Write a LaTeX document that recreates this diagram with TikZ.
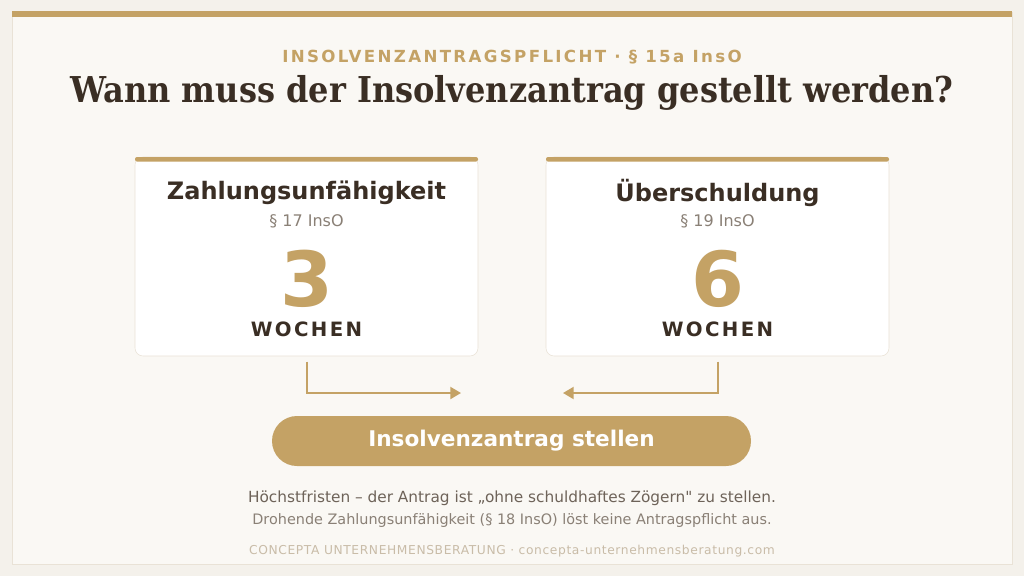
\documentclass[tikz,border=0pt]{standalone}
\usepackage{fontspec}
\setmainfont{DejaVu Sans}[Ligatures=TeXOff]
\newfontfamily\titlefont{DejaVu Serif Condensed}
\usetikzlibrary{arrows.meta}
\definecolor{pagebg}{HTML}{F4F1EB}
\definecolor{panelbg}{HTML}{FAF8F4}
\definecolor{panelline}{HTML}{E9E2D6}
\definecolor{gold}{HTML}{C4A265}
\definecolor{ink}{HTML}{3A2E24}
\definecolor{muted}{HTML}{8A8076}
\definecolor{notetext}{HTML}{6E6359}
\definecolor{foottext}{HTML}{C9BCA8}
\begin{document}
\begin{tikzpicture}[x=0.75pt,y=-0.75pt,
  card/.style={draw=panelline, fill=white, rounded corners=6pt,
    minimum width=257.25pt, minimum height=149.25pt, inner sep=0pt},
  cardhead/.style={font=\bfseries\fontsize{18}{20}\selectfont, text=ink},
  para/.style={font=\fontsize{12}{14}\selectfont, text=muted},
  bignum/.style={font=\bfseries\fontsize{57}{60}\selectfont, text=gold, inner sep=0pt},
  weeks/.style={font=\bfseries\fontsize{14.8}{16}\selectfont\addfontfeatures{LetterSpace=12}, text=ink, inner sep=1pt},
  flow/.style={draw=gold, line width=1.5pt, -{Triangle[length=8pt,width=9pt]}},
  note/.style={inner sep=1pt}]
  % page and frame
  \fill[pagebg] (0,0) rectangle (1024,576);
  \draw[panelline, fill=panelbg] (12,12) rectangle (1012,564);
  \fill[gold] (12,11) rectangle (1012,17);
  % heading
  \node[font=\bfseries\fontsize{12.5}{14}\selectfont\addfontfeatures{LetterSpace=14}, text=gold]
    (kicker) at (512,57) {INSOLVENZANTRAGSPFLICHT · § 15a InsO};
  \node[font=\titlefont\bfseries\fontsize{26.7}{30}\selectfont, text=ink]
    (title) at (512,92.5) {Wann muss der Insolvenzantrag gestellt werden?};
  % the two cards
  \node[card] (zu) at (306.5,256.5) {};
  \node[card] (ue) at (717.5,256.5) {};
  \fill[gold, rounded corners=1.5pt] (135,157) rectangle (478,161.5);
  \fill[gold, rounded corners=1.5pt] (546,157) rectangle (889,161.5);
  \node[cardhead] (zuname) at (306.5,193) {Zahlungsunfähigkeit};
  \node[para] (zupar) at (306.5,221) {§ 17 InsO};
  \node[bignum] (zunum) at (306.5,278.5) {3};
  \node[weeks] (zuwk) at (306.5,329.5) {WOCHEN};
  \node[cardhead] (uename) at (717.5,193) {Überschuldung};
  \node[para] (uepar) at (717.5,221) {§ 19 InsO};
  \node[bignum] (uenum) at (717.5,278.5) {6};
  \node[weeks] (uewk) at (717.5,329.5) {WOCHEN};
  % result
  \node[fill=gold, rounded corners=18.75pt, minimum width=359.25pt, minimum height=37.5pt,
    font=\bfseries\fontsize{16.2}{18}\selectfont, text=white] (antrag) at (511.5,441)
    {Insolvenzantrag stellen};
  \coordinate (zuend) at (461,393);
  \coordinate (ueend) at (563,393);
  \draw[flow] ([yshift=-4pt]zu.south) |- (zuend);
  \draw[flow] ([yshift=-4pt]ue.south) |- (ueend);
  % notes
  \node[note, font=\fontsize{11.5}{13}\selectfont, text=notetext] (note1) at (512,498)
    {Höchstfristen – der Antrag ist „ohne schuldhaftes Zögern" zu stellen.};
  \node[note, font=\fontsize{10.8}{12}\selectfont, text=muted] (note2) at (512,521)
    {Drohende Zahlungsunfähigkeit (§ 18 InsO) löst keine Antragspflicht aus.};
  \node[font=\fontsize{9.2}{10}\selectfont\addfontfeatures{LetterSpace=5}, text=foottext]
    (footer) at (512,551) {CONCEPTA UNTERNEHMENSBERATUNG · concepta-unternehmensberatung.com};
\end{tikzpicture}
\end{document}
